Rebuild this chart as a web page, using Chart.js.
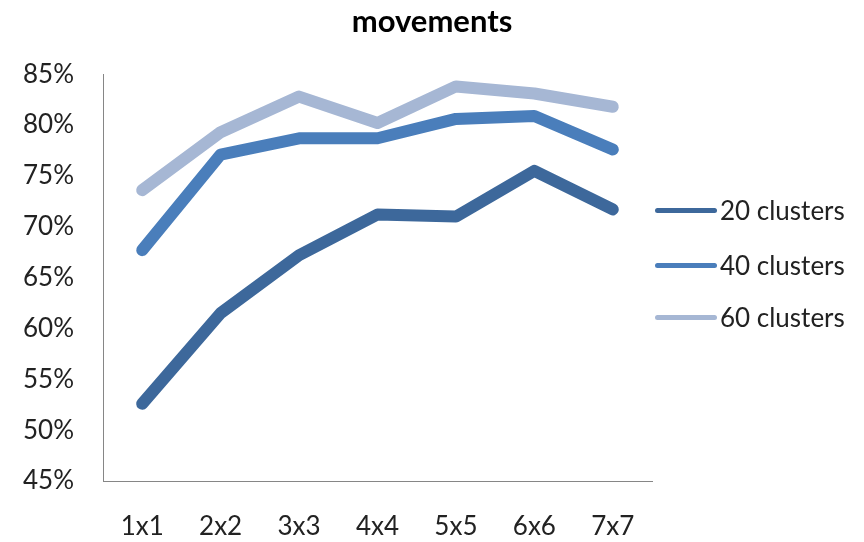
<!DOCTYPE html>
<html>
<head>
<meta charset="utf-8">
<script src="https://cdn.jsdelivr.net/npm/chart.js@4"></script>
<style>
  html, body { margin: 0; padding: 0; background: #fff; }
  #wrap { position: relative; width: 864px; height: 542px; }
  #legend { position: absolute; left: 655px; top: 0; font-family: Lato, sans-serif; font-size: 26px; color: #222; }
  .item { position: absolute; left: 0; display: flex; align-items: center; white-space: nowrap; }
  .swatch { width: 62px; height: 5px; border-radius: 3px; margin-right: 3px; }
</style>
</head>
<body>
<div id="wrap">
  <canvas id="my-chart" width="864" height="542"></canvas>
  <div id="legend"></div>
</div>
<script>
const sizes = ['1x1', '2x2', '3x3', '4x4', '5x5', '6x6', '7x7'];
const clusters20 = [52.6, 61.5, 67.2, 71.2, 71.0, 75.5, 71.7];
const clusters40 = [67.7, 77.1, 78.7, 78.7, 80.6, 80.9, 77.6];
const clusters60 = [73.6, 79.3, 82.8, 80.2, 83.8, 83.1, 81.8];

const font = 'Lato, sans-serif';

const ctx = document.getElementById('my-chart');
const myChart = new Chart(ctx, {
  type: 'line',
  data: {
    labels: sizes,
    datasets: [
      { data: clusters20, label: '20 clusters', borderColor: '#3d689b', backgroundColor: '#3d689b' },
      { data: clusters40, label: '40 clusters', borderColor: '#4a7ebb', backgroundColor: '#4a7ebb' },
      { data: clusters60, label: '60 clusters', borderColor: '#a6b7d4', backgroundColor: '#a6b7d4' }
    ]
  },
  options: {
    responsive: false,
    animation: false,
    layout: { padding: 0 },
    elements: {
      line: { borderWidth: 12, borderCapStyle: 'round', borderJoinStyle: 'round', tension: 0 },
      point: { radius: 0, hoverRadius: 0 }
    },
    plugins: {
      legend: { display: false },
      tooltip: { enabled: false },
      title: {
        display: true,
        text: 'movements',
        color: '#000',
        font: { family: font, size: 31, weight: 'bold', lineHeight: 1.2 },
        padding: { top: 3, bottom: 34 }
      }
    },
    scales: {
      x: {
        offset: true,
        grid: { display: false, drawTicks: false },
        border: { display: true, color: '#868686', width: 1 },
        ticks: { color: '#222', font: { family: font, size: 26 }, padding: 30, maxRotation: 0 },
        afterFit: (scale) => { scale.height = 61; }
      },
      y: {
        min: 45,
        max: 85,
        grid: { display: false, drawTicks: false },
        border: { display: true, color: '#868686', width: 1 },
        ticks: {
          stepSize: 5,
          color: '#222',
          font: { family: font, size: 26 },
          padding: 29,
          callback: (v) => v + '%'
        },
        afterFit: (scale) => { scale.width = 103; }
      },
      // empty axis that reserves room on the right for the legend
      spacer: {
        position: 'right',
        min: 45,
        max: 85,
        grid: { display: false, drawTicks: false },
        border: { display: false },
        ticks: { display: false },
        afterFit: (scale) => { scale.width = 212; }
      }
    }
  }
});

// legend on the right, one row per series
const legendRows = [210, 265, 317];
const legend = document.getElementById('legend');
myChart.data.datasets.forEach((ds, i) => {
  const row = document.createElement('div');
  row.className = 'item';
  row.style.top = (legendRows[i] - 16) + 'px';
  row.style.height = '32px';
  const sw = document.createElement('span');
  sw.className = 'swatch';
  sw.style.background = ds.borderColor;
  const txt = document.createElement('span');
  txt.textContent = ds.label;
  row.appendChild(sw);
  row.appendChild(txt);
  legend.appendChild(row);
});
</script>
</body>
</html>
